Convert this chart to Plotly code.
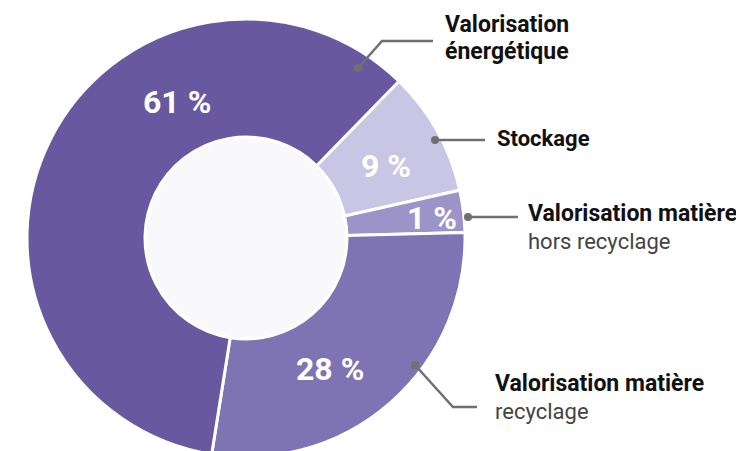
import plotly.graph_objects as go

# ---- data ----
categories = ["Stockage", "Valorisation matière hors recyclage",
              "Valorisation matière recyclage", "Valorisation énergétique"]
# arc shares as measured on the picture (the 1 % slice is drawn enlarged)
arc_shares = [9.2, 3.1, 27.9, 59.8]
pct_labels = ["9 %", "1 %", "28 %", "61 %"]
colors = ["#C9C5E4", "#9C93C9", "#7E74B3", "#67589F"]

W, H = 744, 451
OFF = 8  # page body margin

def px(x):
    return (x - OFF) / W

def py(y):
    return 1 - (y - OFF) / H

fig = go.Figure()

# pie geometry (page pixels)
cx, cy, r = 246, 238, 219
hole_r = 101

fig.add_trace(go.Pie(
    labels=categories,
    values=arc_shares,
    sort=False,
    direction="clockwise",
    rotation=44.3,
    hole=hole_r / r,
    marker=dict(colors=colors, line=dict(color="white", width=3)),
    textinfo="none",
    hoverinfo="label+percent",
    showlegend=False,
    domain=dict(x=[px(cx - r), px(cx + r)], y=[py(cy + r), py(cy - r)]),
))

shapes = []
# hole fill
shapes.append(dict(type="circle", xref="paper", yref="paper", layer="below",
                   x0=px(cx - hole_r), x1=px(cx + hole_r),
                   y0=py(cy + hole_r), y1=py(cy - hole_r),
                   fillcolor="#F9F9FC", line=dict(width=0)))

lead_col = "#707070"
leaders = [
    [(358, 68), (382, 41), (433, 41)],
    [(435, 140), (485, 140)],
    [(468, 217), (518, 217)],
    [(415, 365), (453, 407), (477, 407)],
]
for pts in leaders:
    path = "M " + " L ".join(f"{px(x)},{py(y)}" for x, y in pts)
    shapes.append(dict(type="path", xref="paper", yref="paper", path=path,
                       line=dict(color=lead_col, width=2.5)))
    x0, y0 = pts[0]
    shapes.append(dict(type="circle", xref="paper", yref="paper",
                       x0=px(x0 - 4), x1=px(x0 + 4), y0=py(y0 + 4), y1=py(y0 - 4),
                       fillcolor=lead_col, line=dict(width=0)))

annotations = []
pct_pos = [(386, 166), (432, 218), (330, 369), (177, 102)]
pct_font = dict(family="Roboto, sans-serif", size=32, color="white")
for (x, y), t in zip(pct_pos, pct_labels):
    annotations.append(dict(x=px(x), y=py(y), xref="paper", yref="paper",
                            text=f"<b>{t}</b>", showarrow=False,
                            xanchor="center", yanchor="middle", font=pct_font))

bold_font = dict(family="Roboto, sans-serif", size=23, color="#111111")
bold_font_s = dict(family="Roboto, sans-serif", size=22, color="#111111")
reg_font = dict(family="Roboto, sans-serif", size=22, color="#444444")
outer = [
    ("<b>Valorisation</b>", 445, 24, bold_font),
    ("<b>énergétique</b>", 445, 51, bold_font),
    ("<b>Stockage</b>", 497, 138, bold_font_s),
    ("<b>Valorisation matière</b>", 528, 213, bold_font),
    ("hors recyclage", 528, 241, reg_font),
    ("<b>Valorisation matière</b>", 495, 383, bold_font),
    ("recyclage", 495, 411, reg_font),
]
for t, x, y, f in outer:
    annotations.append(dict(x=px(x), y=py(y), xref="paper", yref="paper",
                            text=t, showarrow=False, xanchor="left",
                            yanchor="middle", font=f, xshift=-2))

fig.update_layout(
    width=W, height=H,
    margin=dict(l=0, r=0, t=0, b=0),
    paper_bgcolor="white",
    plot_bgcolor="white",
    shapes=shapes,
    annotations=annotations,
)

fig.write_html("out.html")
